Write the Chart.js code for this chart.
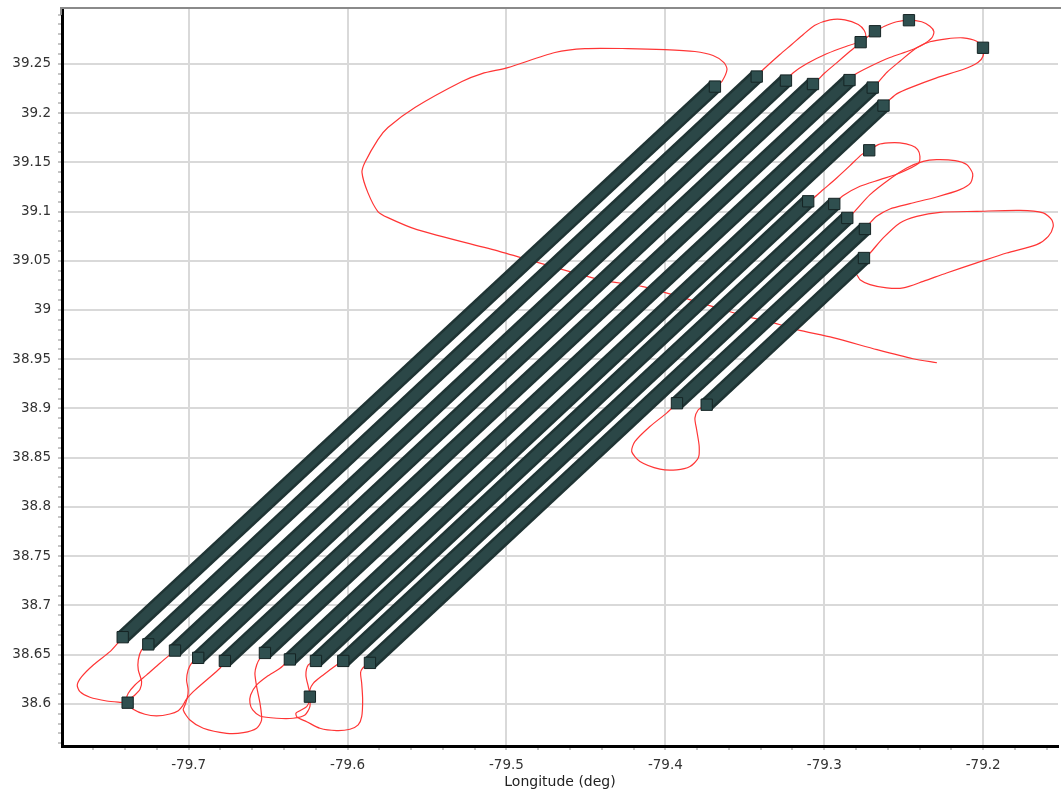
<!DOCTYPE html>
<html>
<head>
<meta charset="utf-8">
<title>Survey flight lines</title>
<script src="https://cdn.jsdelivr.net/npm/chart.js@4.4.1/dist/chart.umd.min.js"></script>
<style>
  html, body { margin: 0; padding: 0; background: #fff; }
  #wrap { width: 1061px; height: 797px; }
</style>
</head>
<body>
<div id="wrap"><canvas id="flightChart" width="1061" height="797"></canvas></div>
<script>
// axis ranges and labelled ticks
const lonRange = [-79.7797, -79.1529];
const latRange = [38.5572, 39.3067];
const lonTicks = [-79.7, -79.6, -79.5, -79.4, -79.3, -79.2];
const latTicks = [38.6, 38.65, 38.7, 38.75, 38.8, 38.85, 38.9, 38.95, 39, 39.05, 39.1, 39.15, 39.2, 39.25];

// survey lines: south-west end and north-east end
const lineSWLon = [-79.7415, -79.7254, -79.7086, -79.6940, -79.6772, -79.6520, -79.6363, -79.6199, -79.6027, -79.5859, -79.3927, -79.3740];
const lineSWLat = [38.6677, 38.6604, 38.6541, 38.6467, 38.6436, 38.6517, 38.6451, 38.6436, 38.6436, 38.6416, 38.9053, 38.9038];
const lineNELon = [-79.3688, -79.3425, -79.3241, -79.3071, -79.2841, -79.2695, -79.2627, -79.3101, -79.2937, -79.2855, -79.2744, -79.2750];
const lineNELat = [39.2269, 39.2371, 39.2330, 39.2295, 39.2335, 39.2259, 39.2076, 39.1104, 39.1077, 39.0935, 39.0823, 39.0528];

// single fixes off the lines
const fixLon = [-79.7384, -79.6237, -79.2771, -79.2681, -79.2467, -79.2001, -79.2717];
const fixLat = [38.6012, 38.6073, 39.2720, 39.2831, 39.2943, 39.2663, 39.1622];

// flight track pieces [lon, lat]
const trackNorth = [[-79.3688, 39.2269], [-79.3669, 39.2290], [-79.3644, 39.2320], [-79.3612, 39.2442], [-79.3631, 39.2513], [-79.3700, 39.2584], [-79.3814, 39.2625], [-79.4003, 39.2645], [-79.4235, 39.2655], [-79.4506, 39.2655], [-79.4695, 39.2615], [-79.4991, 39.2462], [-79.5154, 39.2401], [-79.5280, 39.2320], [-79.5576, 39.2056], [-79.5746, 39.1853], [-79.5809, 39.1731], [-79.5891, 39.1497], [-79.5909, 39.1395], [-79.5872, 39.1192], [-79.5809, 39.1000], [-79.5746, 39.0938], [-79.5563, 39.0816], [-79.5041, 39.0593], [-79.4412, 39.0308], [-79.4141, 39.0237], [-79.3889, 39.0125], [-79.3700, 39.0034], [-79.3486, 38.9932], [-79.3323, 38.9871], [-79.3172, 38.9800], [-79.2945, 38.9719], [-79.2668, 38.9597], [-79.2442, 38.9505], [-79.2291, 38.9464]];
const turnTopA = [[-79.3241, 39.2330], [-79.3195, 39.2409], [-79.3111, 39.2500], [-79.2985, 39.2602], [-79.2859, 39.2679], [-79.2771, 39.2720], [-79.2838, 39.2628], [-79.2922, 39.2510], [-79.2996, 39.2409], [-79.3044, 39.2330], [-79.3071, 39.2295]];
const turnTopB = [[-79.3425, 39.2371], [-79.3384, 39.2442], [-79.3279, 39.2595], [-79.3205, 39.2696], [-79.3132, 39.2798], [-79.3059, 39.2892], [-79.2964, 39.2947], [-79.2870, 39.2947], [-79.2786, 39.2899], [-79.2748, 39.2838], [-79.2739, 39.2774], [-79.2771, 39.2720], [-79.2681, 39.2831], [-79.2649, 39.2859], [-79.2607, 39.2892], [-79.2544, 39.2927], [-79.2467, 39.2943], [-79.2387, 39.2927], [-79.2335, 39.2882], [-79.2310, 39.2828], [-79.2322, 39.2767], [-79.2385, 39.2689], [-79.2461, 39.2635], [-79.2587, 39.2564], [-79.2712, 39.2473], [-79.2807, 39.2391], [-79.2841, 39.2335]];
const turnTopC = [[-79.2695, 39.2259], [-79.2662, 39.2310], [-79.2607, 39.2412], [-79.2524, 39.2526], [-79.2418, 39.2663], [-79.2335, 39.2724], [-79.2230, 39.2754], [-79.2127, 39.2764], [-79.2041, 39.2730], [-79.2001, 39.2663], [-79.2001, 39.2577], [-79.2033, 39.2513], [-79.2127, 39.2442], [-79.2293, 39.2358], [-79.2461, 39.2256], [-79.2544, 39.2195], [-79.2587, 39.2137], [-79.2627, 39.2076]];
const turnEastA = [[-79.2937, 39.1077], [-79.2880, 39.1162], [-79.2775, 39.1256], [-79.2649, 39.1324], [-79.2524, 39.1392], [-79.2408, 39.1487], [-79.2398, 39.1561], [-79.2412, 39.1629], [-79.2450, 39.1670], [-79.2524, 39.1697], [-79.2597, 39.1697], [-79.2660, 39.1680], [-79.2717, 39.1622], [-79.2765, 39.1578], [-79.2838, 39.1466], [-79.2922, 39.1341], [-79.3006, 39.1223], [-79.3059, 39.1148], [-79.3101, 39.1104]];
const turnEastB = [[-79.2855, 39.0935], [-79.2818, 39.0986], [-79.2712, 39.1172], [-79.2587, 39.1331], [-79.2481, 39.1443], [-79.2377, 39.1510], [-79.2293, 39.1527], [-79.2177, 39.1517], [-79.2104, 39.1477], [-79.2066, 39.1385], [-79.2079, 39.1291], [-79.2146, 39.1223], [-79.2293, 39.1148], [-79.2461, 39.1080], [-79.2587, 39.1026], [-79.2670, 39.0951], [-79.2712, 39.0884], [-79.2744, 39.0823]];
const turnEastC = [[-79.2750, 39.0528], [-79.2712, 39.0579], [-79.2629, 39.0732], [-79.2524, 39.0884], [-79.2418, 39.0951], [-79.2272, 39.0992], [-79.2041, 39.1002], [-79.1768, 39.1012], [-79.1622, 39.0986], [-79.1569, 39.0918], [-79.1559, 39.0850], [-79.1590, 39.0748], [-79.1663, 39.0664], [-79.1852, 39.0579], [-79.2041, 39.0478], [-79.2230, 39.0376], [-79.2377, 39.0291], [-79.2503, 39.0224], [-79.2607, 39.0224], [-79.2712, 39.0257], [-79.2775, 39.0308], [-79.2796, 39.0359], [-79.2838, 39.0399]];
const turnMid = [[-79.3927, 38.9053], [-79.3992, 38.8953], [-79.4097, 38.8817], [-79.4191, 38.8665], [-79.4212, 38.8563], [-79.4160, 38.8461], [-79.4034, 38.8384], [-79.3929, 38.8377], [-79.3845, 38.8411], [-79.3793, 38.8496], [-79.3787, 38.8614], [-79.3803, 38.8784], [-79.3814, 38.8902], [-79.3793, 38.8987], [-79.3761, 38.9020], [-79.3740, 38.9038]];
const turnWestA = [[-79.7415, 38.6677], [-79.7443, 38.6622], [-79.7495, 38.6530], [-79.7600, 38.6395], [-79.7673, 38.6276], [-79.7701, 38.6192], [-79.7684, 38.6124], [-79.7621, 38.6067], [-79.7516, 38.6029], [-79.7432, 38.6016], [-79.7384, 38.6012], [-79.7349, 38.5945], [-79.7275, 38.5894], [-79.7201, 38.5877], [-79.7118, 38.5897], [-79.7065, 38.5931], [-79.7038, 38.5979], [-79.7017, 38.6040], [-79.6971, 38.6124], [-79.6887, 38.6243], [-79.6803, 38.6362], [-79.6772, 38.6436]];
const turnWestB = [[-79.7254, 38.6604], [-79.7296, 38.6548], [-79.7317, 38.6446], [-79.7317, 38.6345], [-79.7296, 38.6226], [-79.7306, 38.6148], [-79.7338, 38.6090], [-79.7369, 38.6050], [-79.7384, 38.6012]];
const turnWestC = [[-79.7086, 38.6541], [-79.7181, 38.6413], [-79.7264, 38.6294], [-79.7338, 38.6192], [-79.7380, 38.6108], [-79.7390, 38.6057], [-79.7384, 38.6012]];
const turnWestD = [[-79.6940, 38.6467], [-79.6981, 38.6413], [-79.7003, 38.6345], [-79.7013, 38.6243], [-79.7003, 38.6141], [-79.7009, 38.6057], [-79.7023, 38.5989], [-79.7034, 38.5938], [-79.6992, 38.5836], [-79.6908, 38.5752], [-79.6761, 38.5701], [-79.6656, 38.5707], [-79.6572, 38.5752], [-79.6541, 38.5836], [-79.6551, 38.6006], [-79.6572, 38.6175], [-79.6583, 38.6311], [-79.6572, 38.6395], [-79.6551, 38.6463], [-79.6520, 38.6517]];
const turnWestE = [[-79.6363, 38.6451], [-79.6425, 38.6362], [-79.6509, 38.6276], [-79.6572, 38.6192], [-79.6610, 38.6090], [-79.6614, 38.6006], [-79.6597, 38.5938], [-79.6551, 38.5877], [-79.6446, 38.5854], [-79.6342, 38.5854], [-79.6268, 38.5887], [-79.6237, 38.5972], [-79.6237, 38.6073]];
const turnWestF = [[-79.6199, 38.6436], [-79.6247, 38.6395], [-79.6262, 38.6294], [-79.6247, 38.6175], [-79.6237, 38.6108], [-79.6237, 38.6073]];
const turnWestG = [[-79.6027, 38.6436], [-79.6069, 38.6395], [-79.6153, 38.6294], [-79.6216, 38.6209], [-79.6237, 38.6141], [-79.6237, 38.6073]];
const turnWestH = [[-79.6237, 38.6073], [-79.6237, 38.6040], [-79.6257, 38.5972], [-79.6300, 38.5931], [-79.6325, 38.5904], [-79.6317, 38.5864], [-79.6257, 38.5819], [-79.6174, 38.5752], [-79.6069, 38.5728], [-79.5985, 38.5742], [-79.5933, 38.5786], [-79.5911, 38.5870], [-79.5905, 38.6040], [-79.5911, 38.6209], [-79.5918, 38.6317], [-79.5905, 38.6362], [-79.5880, 38.6395], [-79.5859, 38.6416]];

const trackPieces = [trackNorth, turnTopA, turnTopB, turnTopC, turnEastA, turnEastB, turnEastC, turnMid,
    turnWestA, turnWestB, turnWestC, turnWestD, turnWestE, turnWestF, turnWestG, turnWestH];

const markFill = '#2f4f4f';
const markEdge = '#152424';

function isOnList(v, list) {
    return list.some(t => Math.abs(t - v) < 1e-6)
}

function stepTicks(min, max, perUnit) {
    const out = [];
    for (let i = Math.ceil(min * perUnit - 1e-9); i <= Math.floor(max * perUnit + 1e-9); i++) {
        out.push({ value: i / perUnit });
    }
    return out
}

const tickFont = { family: 'DejaVu Sans', size: 13.5 };
const titleFont = { family: 'DejaVu Sans', size: 14 };

const datasets = [];

trackPieces.forEach(piece => {
    datasets.push({
        data: piece.map(p => ({ x: p[0], y: p[1] })),
        showLine: true,
        borderColor: '#ff3535',
        borderWidth: 1.2,
        pointRadius: 0,
        tension: 0.25,
        order: 4
    })
})

// each survey line: a dark outer stroke, a lighter core, square marks at both ends
lineSWLon.forEach((lon, i) => {
    const ends = [{ x: lon, y: lineSWLat[i] }, { x: lineNELon[i], y: lineNELat[i] }];
    datasets.push({
        data: ends,
        showLine: true,
        borderColor: '#1f3434',
        borderWidth: 15,
        borderCapStyle: 'butt',
        pointRadius: 0,
        order: 3
    })
    datasets.push({
        data: ends,
        showLine: true,
        borderColor: '#2b4747',
        borderWidth: 10,
        borderCapStyle: 'butt',
        pointStyle: 'rect',
        pointRadius: 8,
        pointBackgroundColor: markFill,
        pointBorderColor: markEdge,
        pointBorderWidth: 1,
        order: 2
    })
})

datasets.push({
    data: fixLon.map((lon, i) => ({ x: lon, y: fixLat[i] })),
    pointStyle: 'rect',
    pointRadius: 8,
    pointBackgroundColor: markFill,
    pointBorderColor: markEdge,
    pointBorderWidth: 1,
    order: 1
})

const topFrame = {
    id: 'topFrame',
    afterDraw(chart) {
        const c = chart.ctx;
        const a = chart.chartArea;
        c.save();
        c.strokeStyle = '#8a8a8a';
        c.lineWidth = 2;
        c.beginPath();
        c.moveTo(a.left - 1, a.top + 7);
        c.lineTo(a.left - 1, a.top);
        c.lineTo(chart.width, a.top);
        c.stroke();
        c.restore();
    }
}

const canvas = document.getElementById('flightChart');
let flightChart = new Chart(canvas, {
    type: 'scatter',
    data: { datasets: datasets },
    options: {
        responsive: false,
        animation: false,
        devicePixelRatio: 1,
        events: [],
        layout: { autoPadding: false, padding: { top: 8, right: 3, left: 0, bottom: 0 } },
        plugins: {
            legend: { display: false },
            tooltip: { enabled: false }
        },
        scales: {
            x: {
                type: 'linear',
                position: 'bottom',
                min: lonRange[0],
                max: lonRange[1],
                afterBuildTicks: scale => { scale.ticks = stepTicks(scale.min, scale.max, 50) },
                afterFit: scale => {
                    scale.height = 51;
                    scale.paddingLeft = 0;
                    scale.paddingRight = 0;
                },
                grid: {
                    color: ctx => isOnList(ctx.tick.value, lonTicks) ? '#d9d9d9' : 'rgba(0,0,0,0)',
                    lineWidth: 2,
                    tickColor: '#8c8c8c',
                    tickWidth: 1,
                    tickLength: 4
                },
                border: { color: '#000', width: 3 },
                ticks: {
                    autoSkip: false,
                    maxRotation: 0,
                    padding: 7,
                    color: '#333',
                    font: tickFont,
                    callback: v => isOnList(v, lonTicks) ? String(+v.toFixed(2)) : ''
                },
                title: {
                    display: true,
                    text: 'Longitude (deg)',
                    color: '#222',
                    font: titleFont,
                    padding: { top: 0, bottom: 6 }
                }
            },
            y: {
                type: 'linear',
                position: 'left',
                min: latRange[0],
                max: latRange[1],
                afterBuildTicks: scale => { scale.ticks = stepTicks(scale.min, scale.max, 100) },
                afterFit: scale => {
                    scale.width = 62;
                    scale.paddingTop = 0;
                    scale.paddingBottom = 0;
                },
                grid: {
                    color: ctx => isOnList(ctx.tick.value, latTicks) ? '#d9d9d9' : 'rgba(0,0,0,0)',
                    lineWidth: 2,
                    tickColor: '#8c8c8c',
                    tickWidth: 1,
                    tickLength: 4
                },
                border: { color: '#000', width: 3 },
                ticks: {
                    autoSkip: false,
                    padding: 7,
                    color: '#333',
                    font: tickFont,
                    callback: v => isOnList(v, latTicks) ? String(+v.toFixed(2)) : ''
                }
            }
        }
    },
    plugins: [topFrame]
})
</script>
</body>
</html>
